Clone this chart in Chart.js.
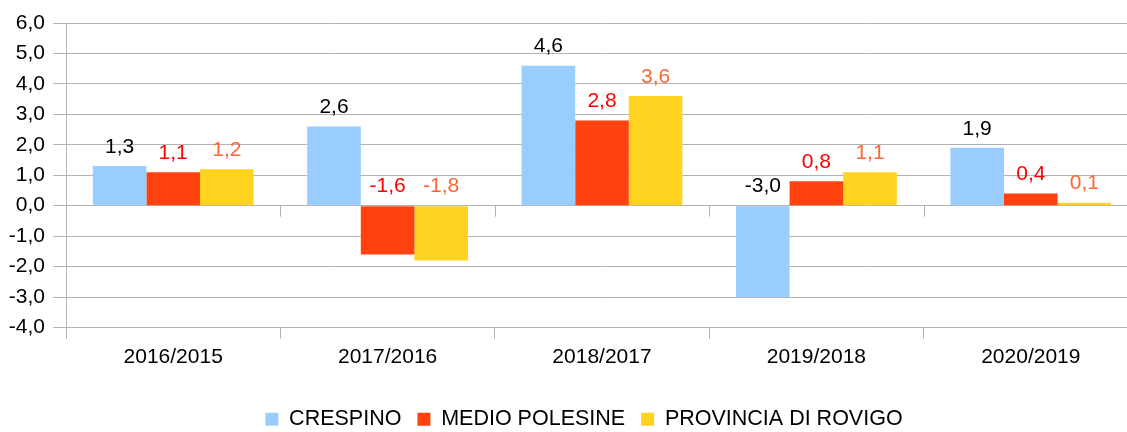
<!DOCTYPE html>
<html>
<head>
<meta charset="utf-8">
<script src="https://cdn.jsdelivr.net/npm/chart.js@4"></script>
<style>
  html, body { margin: 0; padding: 0; background: #fff; overflow: hidden; }
  #wrap { width: 1168px; height: 440px; }
</style>
</head>
<body>
<div id="wrap"><canvas id="chart" width="1168" height="440"></canvas></div>
<script>
const categories = ["2016/2015", "2017/2016", "2018/2017", "2019/2018", "2020/2019"];
const crespino = [1.3, 2.6, 4.6, -3.0, 1.9];
const medioPolesine = [1.1, -1.6, 2.8, 0.8, 0.4];
const provinciaRovigo = [1.2, -1.8, 3.6, 1.1, 0.1];
const seriesNames = ["CRESPINO", "MEDIO POLESINE", "PROVINCIA DI ROVIGO"];
const barColors = ["#99ccff", "#ff420e", "#ffd320"];
const labelColors = ["#000000", "#ff0000", "#ff6633"];

const fmt = v => v.toFixed(1).replace(".", ",");
const gridGray = "#b3b3b3";
const FONT = "'Liberation Sans', Arial, sans-serif";
const FS = 21;

// value labels above the bar (or above the zero line for negatives)
const valueLabels = {
  id: "valueLabels",
  afterDatasetsDraw(chart) {
    const ctx = chart.ctx;
    const y = chart.scales.y;
    ctx.save();
    ctx.font = "21px " + FONT;
    ctx.textAlign = "center";
    ctx.textBaseline = "middle";
    chart.data.datasets.forEach((ds, i) => {
      const meta = chart.getDatasetMeta(i);
      meta.data.forEach((bar, j) => {
        const v = ds.data[j];
        ctx.fillStyle = labelColors[i];
        ctx.fillText(fmt(v), bar.x, y.getPixelForValue(Math.max(v, 0)) - 19);
      });
    });
    ctx.restore();
  }
};

// short category ticks hanging from the zero line
const zeroTicks = {
  id: "zeroTicks",
  beforeDatasetsDraw(chart) {
    const ctx = chart.ctx;
    const x = chart.scales.x, y = chart.scales.y;
    const y0 = y.getPixelForValue(0);
    const step = (x.right - x.left) / categories.length;
    ctx.save();
    ctx.strokeStyle = gridGray;
    ctx.lineWidth = 1;
    for (let i = 1; i < categories.length; i++) {
      const px = Math.round(x.left + i * step) + 0.5;
      ctx.beginPath();
      ctx.moveTo(px, y0);
      ctx.lineTo(px, y0 + 11);
      ctx.stroke();
    }
    ctx.restore();
  }
};

new Chart(document.getElementById("chart"), {
  type: "bar",
  data: {
    labels: categories,
    datasets: [crespino, medioPolesine, provinciaRovigo].map((d, i) => ({
      label: seriesNames[i],
      data: d,
      backgroundColor: barColors[i],
      borderWidth: 0,
      categoryPercentage: 0.75,
      barPercentage: 1.0
    }))
  },
  options: {
    responsive: false,
    animation: false,
    layout: { padding: { top: 23, left: 0, right: 0, bottom: 0 } },
    plugins: {
      legend: {
        position: "bottom",
        labels: {
          color: "#000",
          font: { family: FONT, size: 21.5 },
          boxWidth: 13,
          boxHeight: 13,
          padding: 16
        }
      },
      tooltip: { enabled: false }
    },
    scales: {
      x: {
        offset: true,
        grid: { display: true, drawOnChartArea: false, drawTicks: true, tickLength: 11, color: gridGray },
        border: { display: true, color: gridGray },
        ticks: { color: "#000", font: { family: FONT, size: FS }, padding: 6 },
        afterFit: s => { s.height = 65; }
      },
      y: {
        min: -4,
        max: 6,
        ticks: {
          stepSize: 1,
          color: "#000",
          font: { family: FONT, size: FS },
          padding: 8,
          callback: v => fmt(v)
        },
        grid: { color: gridGray, tickLength: 13 },
        border: { display: true, color: gridGray },
        afterFit: s => { s.width = 66; }
      },
      yRight: {
        position: "right",
        display: true,
        grid: { display: false },
        border: { display: false },
        ticks: { display: false },
        afterFit: s => { s.width = 30; }
      }
    }
  },
  plugins: [valueLabels, zeroTicks]
});
</script>
</body>
</html>
